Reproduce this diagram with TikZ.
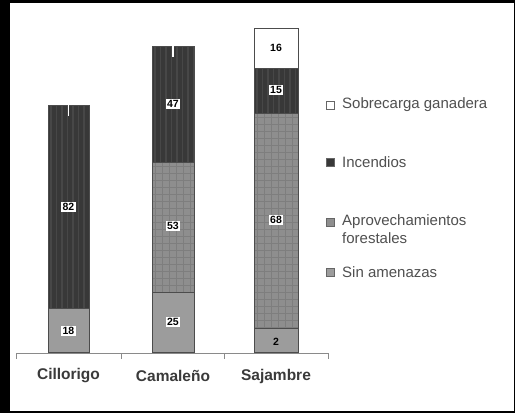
\documentclass[tikz,border=0pt]{standalone}
\usepackage{fontspec}
\setmainfont{Liberation Sans}
\definecolor{incol}{HTML}{383838}
\definecolor{incline}{HTML}{474747}
\definecolor{aprcol}{HTML}{8E8E8E}
\definecolor{aprline}{HTML}{7E7E7E}
\definecolor{sincol}{HTML}{9C9C9C}
\definecolor{txtcol}{HTML}{3A3A3A}
\definecolor{legcol}{HTML}{505050}
\definecolor{axcol}{HTML}{8A8A8A}
\tikzset{
  segborder/.style={draw=black!70,line width=0.6pt},
  incstripe/.style={draw=incline,line width=1.2pt},
  aprgrid/.style={draw=aprline,line width=0.6pt},
  barlabel/.style={fill=white,inner sep=1.3pt,font=\bfseries\fontsize{10.5}{11}\selectfont,text=black},
  toplabel/.style={inner sep=1pt,font=\bfseries\fontsize{10.5}{11}\selectfont,text=black},
  catlabel/.style={font=\bfseries\fontsize{15.5}{17}\selectfont,text=txtcol},
  legtext/.style={anchor=west,inner sep=0pt,font=\fontsize{15}{18}\selectfont,text=legcol,align=left},
  legbox/.style={minimum size=7.5pt,inner sep=0pt,draw=black!60,line width=0.5pt},
  axisline/.style={draw=axcol,line width=1pt},
  zerotick/.style={draw=white,line width=1.3pt}
}
\newcommand\incseg[4]{%
  \begin{scope}
    \clip (#1,#3) rectangle (#2,#4);
    \fill[incol] (#1,#3) rectangle (#2,#4);
    \foreach \i in {0,...,9} \draw[incstripe] ({#1+3+\i*5.5},#3) -- ({#1+3+\i*5.5},#4);
  \end{scope}
  \draw[segborder] (#1,#3) rectangle (#2,#4);}
\newcommand\aprseg[4]{%
  \begin{scope}
    \clip (#1,#3) rectangle (#2,#4);
    \fill[aprcol] (#1,#3) rectangle (#2,#4);
    \foreach \i in {0,...,7} \draw[aprgrid] ({#1+3+\i*7},#3) -- ({#1+3+\i*7},#4);
    \foreach \j in {0,...,32} \draw[aprgrid] (#1,{#3+4+\j*7}) -- (#2,{#3+4+\j*7});
  \end{scope}
  \draw[segborder] (#1,#3) rectangle (#2,#4);}
\newcommand\sinseg[4]{%
  \fill[sincol] (#1,#3) rectangle (#2,#4);
  \draw[segborder] (#1,#3) rectangle (#2,#4);}
\newcommand\sobseg[4]{%
  \fill[white] (#1,#3) rectangle (#2,#4);
  \draw[segborder] (#1,#3) rectangle (#2,#4);}
\begin{document}
\begin{tikzpicture}[x=1pt,y=-1pt]
\useasboundingbox (0,0) rectangle (515,413);
\fill[black] (0,0) rectangle (515,413);
\fill[white] (10,3) rectangle (514,411);

% Cillorigo
\sinseg{48}{89}{308}{352}
\incseg{48}{89}{105}{308}
\draw[zerotick] (68.5,105) -- (68.5,116);
\node[barlabel] (c18) at (68.5,331) {18};
\node[barlabel] (c82) at (68.5,207) {82};

% Camaleno
\sinseg{152}{194}{292}{352}
\aprseg{152}{194}{162}{292}
\incseg{152}{194}{46}{162}
\draw[zerotick] (173,46) -- (173,57);
\node[barlabel] (m25) at (173,322) {25};
\node[barlabel] (m53) at (173,226) {53};
\node[barlabel] (m47) at (173,104) {47};

% Sajambre
\sinseg{254}{298}{328}{352}
\aprseg{254}{298}{113}{328}
\incseg{254}{298}{68}{113}
\sobseg{254}{298}{28}{68}
\node[barlabel,fill=none] (s2) at (276,342) {2};
\node[barlabel] (s68) at (276,220) {68};
\node[barlabel] (s15) at (276,90) {15};
\node[toplabel] (s16) at (276,48) {16};

% axis
\draw[axisline] (16,353) -- (328,353);
\foreach \x in {16,121,224,328} \draw[axisline] (\x,353) -- (\x,359);
\node[catlabel] (lc) at (68.5,376) {Cillorigo};
\node[catlabel] (lm) at (173,376) {Camaleño};
\node[catlabel] (ls) at (276,376) {Sajambre};

% legend
\node[legbox,fill=white] (k1) at (330,105) {};
\node[legtext] (t1) at (342,105) {Sobrecarga ganadera};
\node[legbox,fill=incol] (k2) at (330,162) {};
\node[legtext] (t2) at (342,162) {Incendios};
\node[legbox,fill=aprcol] (k3) at (330,222) {};
\node[legtext,anchor=north west] (t3) at (342,214) {Aprovechamientos\\forestales};
\node[legbox,fill=sincol] (k4) at (330,272) {};
\node[legtext] (t4) at (342,272) {Sin amenazas};
\end{tikzpicture}
\end{document}
